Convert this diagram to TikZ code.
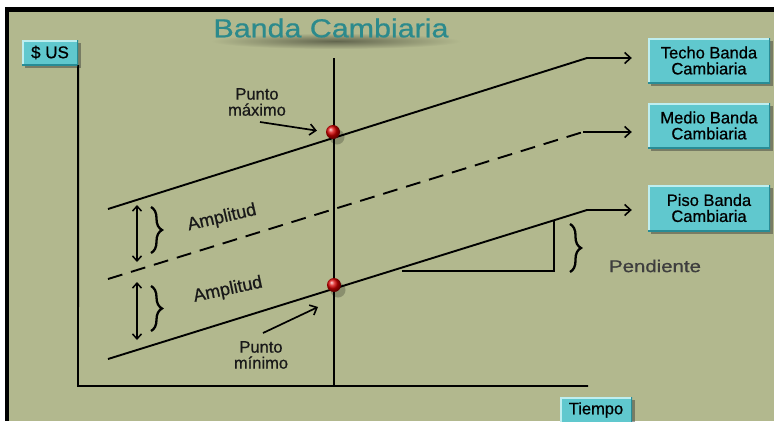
\documentclass[tikz,border=0pt]{standalone}
\usepackage{fontspec}
\setmainfont{Liberation Sans}
\newfontfamily\lbfont[FakeBold=0.7]{Liberation Sans}
\usetikzlibrary{arrows.meta,shadows,decorations.pathreplacing,shadings}
\definecolor{bgolive}{RGB}{178,184,142}
\definecolor{boxcyan}{RGB}{96,200,206}
\definecolor{boxlight}{RGB}{190,238,240}
\definecolor{boxdark}{RGB}{40,140,150}
\definecolor{titleteal}{RGB}{44,138,140}
\definecolor{txtgray}{RGB}{62,62,62}
\begin{document}
\begin{tikzpicture}[x=1pt,y=-1pt,
  bline/.style={line width=1.9pt, black},
  barr/.style={bline, -{Straight Barb[length=6pt,width=11pt,line width=1.6pt]}},
  darr/.style={line width=1.7pt, {Straight Barb[length=5pt,width=9pt,line width=1.5pt]}-{Straight Barb[length=5pt,width=9pt,line width=1.5pt]}},
  bracedeco/.style={decorate, decoration={brace, amplitude=11pt}, line width=2.3pt},
  cbox/.style={fill=boxcyan, inner sep=0pt, align=center,
    font=\lbfont\fontsize{16.5}{16}\selectfont,
    drop shadow={shadow xshift=3pt, shadow yshift=-3pt, opacity=0.45, fill=black!80},
    path picture={
      \draw[boxlight,line width=3pt] (path picture bounding box.south west) -- (path picture bounding box.north west) -- (path picture bounding box.north east);
      \draw[boxdark,line width=3pt] (path picture bounding box.south west) -- (path picture bounding box.south east) -- (path picture bounding box.north east);}},
  lbl/.style={align=center, inner sep=0pt, font=\lbfont\fontsize{16.5}{16}\selectfont, text=black!90},
  amp/.style={inner sep=0pt, font=\lbfont\fontsize{18}{18}\selectfont, text=black!90},
  dot/.style={circle, minimum size=14pt, inner sep=0pt, shading=ball, ball color=red!85!black}
]
\useasboundingbox (0,0) rectangle (774,421);
\fill[white] (0,0) rectangle (774,421);
\fill[black] (5,7) rectangle (774,421);
\fill[bgolive] (9,11.5) rectangle (774,421);

% title with soft shadow smudge
\shade[inner color=black!45!bgolive, outer color=bgolive] (336,41) ellipse [x radius=125pt, y radius=8pt];
\node[text=titleteal, font=\lbfont\fontsize{26}{26}\selectfont] (title) at (331,28) {\scalebox{1.17}[1]{Banda Cambiaria}};

% boxes
\node[cbox, minimum width=56pt, minimum height=25pt, font=\lbfont\fontsize{17}{17}\selectfont] (usd) at (50,52.5) {\$ US};
\node[cbox, minimum width=122pt, minimum height=45pt] (techo) at (709,60.5) {Techo Banda\\Cambiaria};
\node[cbox, minimum width=122pt, minimum height=45pt] (medio) at (709,125.5) {Medio Banda\\Cambiaria};
\node[cbox, minimum width=122pt, minimum height=46pt] (piso) at (709,208) {Piso Banda\\Cambiaria};
\node[cbox, minimum width=72pt, minimum height=26pt] (tiempo) at (596,410) {Tiempo};

% axes
\coordinate (O) at (78,386);
\coordinate (xend) at (588,386);
\draw[bline] (usd.south east) -- (O) -- (xend);
\coordinate (vtop) at (334,58);
\coordinate (vbot) at (334,386);
\draw[bline, line width=1.6pt] (vtop) -- (vbot);

% band lines
\coordinate (t0) at (108,209); \coordinate (tk) at (587,58);
\coordinate (m0) at (108,279); \coordinate (mk) at (583,132);
\coordinate (p0) at (108,359); \coordinate (pk) at (587,210);
\draw[bline] (t0) -- (tk);
\draw[barr, shorten >=16pt] (tk) -- (tk -| techo.west);
\draw[bline, dash pattern=on 15pt off 9pt] (m0) -- (mk);
\draw[barr, shorten >=16pt] (mk) -- (mk -| medio.west);
\draw[bline] (p0) -- (pk);
\draw[barr, shorten >=16pt] (pk) -- (pk -| piso.west);

% slope triangle
\coordinate (s1) at (402,271); \coordinate (s2) at (554,271); \coordinate (s3) at (554,221);
\draw[bline] (s1) -- (s2) -- (s3);
\coordinate (b1) at (570,224); \coordinate (b2) at (570,272);
\draw[bracedeco] (b1) -- (b2);
\node[inner sep=0pt, text=txtgray, font=\lbfont\fontsize{17}{17}\selectfont] (pend) at (655,266) {\scalebox{1.2}[1]{Pendiente}};

% amplitudes
\coordinate (a1) at (137,205); \coordinate (a2) at (137,262);
\coordinate (a3) at (137,282); \coordinate (a4) at (137,340);
\draw[darr] (a1) -- (a2);
\draw[darr] (a3) -- (a4);
\coordinate (c1) at (151,207); \coordinate (c2) at (151,253);
\coordinate (c3) at (151,286); \coordinate (c4) at (151,331);
\draw[bracedeco] (c1) -- (c2);
\draw[bracedeco] (c3) -- (c4);
\node[amp, rotate=13] (amp1) at (222,218) {Amplitud};
\node[amp, rotate=12] (amp2) at (228,290) {Amplitud};

% points
\node[circle, minimum size=15pt, fill=black, opacity=0.22] at (337,137) {};
\node[circle, minimum size=15pt, fill=black, opacity=0.22] at (338,290) {};
\node[dot] (dmax) at (333,132) {};
\node[dot] (dmin) at (334,285) {};
\node[lbl] (pmax) at (257,102) {Punto\\máximo};
\node[lbl] (pmin) at (261,355) {Punto\\mínimo};
\coordinate (qmax) at (260,122);
\coordinate (qmin) at (263,333);
\coordinate (rmin) at (318,307);
\draw[barr, line width=1.7pt, shorten >=9pt] (qmax) -- (dmax.west);
\draw[barr, line width=1.7pt] (qmin) -- (rmin);
\end{tikzpicture}
\end{document}
